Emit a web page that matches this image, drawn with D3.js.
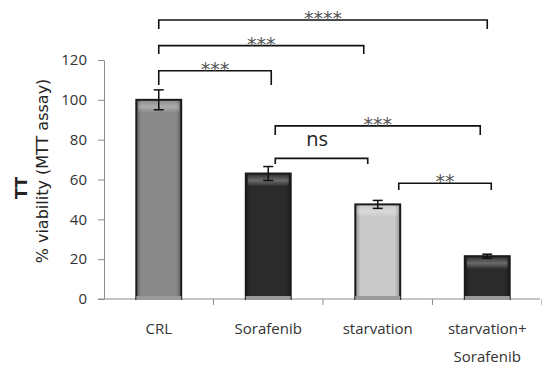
<!DOCTYPE html>
<html>
<head>
<meta charset="utf-8">
<script src="https://cdn.jsdelivr.net/npm/d3@7"></script>
<style>
  body { margin: 0; background: #fff; }
  text { font-family: "Open Sans", Lato, sans-serif; }
</style>
</head>
<body>
<svg id="chart" width="542" height="371"></svg>
<script>
const categories = ['CRL', 'Sorafenib', 'starvation', 'starvation+\nSorafenib']
const viability = [100, 63, 47.5, 21.5]
const errors = [5, 3.5, 2, 1]
const barColors = ['#8a8a8a', '#2b2b2b', '#c9c9c9', '#2b2b2b']
const yTicks = [0, 20, 40, 60, 80, 100, 120]

// significance brackets: from / to category index, level in y units, label
const brackets = [
  { from: 0, to: 1, level: 114.6, leg: 107.4, label: '***', dx0: 0, dx1: 3 },
  { from: 0, to: 2, level: 127.2, leg: 123, label: '***', dx0: 0, dx1: -14 },
  { from: 0, to: 3, level: 140.1, leg: 135.6, label: '****', dx0: 0, dx1: 0 },
  { from: 1, to: 3, level: 86.9, leg: 82.3, label: '***', dx0: 7, dx1: -7 },
  { from: 1, to: 2, level: 70.6, leg: 67.8, label: 'ns', dx0: 7, dx1: -10 },
  { from: 2, to: 3, level: 58.1, leg: 54.7, label: '**', dx0: 21, dx1: 4 }
]

const svg = d3.select('#chart')
const margin = { left: 104, right: 0, top: 60, bottom: 72 }

const x = d3.scaleBand()
  .domain(categories)
  .range([margin.left, 542])
  .paddingInner(0.59)
  .paddingOuter(0.295)

const y = d3.scaleLinear()
  .domain([0, 120])
  .range([299, 60])

const defs = svg.append('defs')
barColors.forEach(function (c, i) {
  const base = d3.color(c)
  const g = defs.append('linearGradient').attr('id', 'hg' + i)
  g.append('stop').attr('offset', '0%').attr('stop-color', base.darker(0.9))
  g.append('stop').attr('offset', '12%').attr('stop-color', base)
  g.append('stop').attr('offset', '88%').attr('stop-color', base)
  g.append('stop').attr('offset', '100%').attr('stop-color', base.darker(0.9))
})
const hl = defs.append('linearGradient').attr('id', 'top').attr('x1', 0).attr('x2', 0).attr('y1', 0).attr('y2', 1)
hl.append('stop').attr('offset', '0').attr('stop-color', '#fff').attr('stop-opacity', 0.05)
hl.append('stop').attr('offset', '0.5').attr('stop-color', '#fff').attr('stop-opacity', 0.3)
hl.append('stop').attr('offset', '1').attr('stop-color', '#fff').attr('stop-opacity', 0)

// y axis
const yAxis = svg.append('g')
  .attr('transform', 'translate(' + margin.left + ',0)')
  .call(d3.axisLeft(y).tickValues(yTicks).tickSize(6).tickPadding(11).tickSizeOuter(0))
yAxis.select('.domain').attr('stroke', '#8c8c8c')
yAxis.selectAll('.tick line').attr('stroke', '#8c8c8c')
yAxis.selectAll('.tick text').attr('font-size', 15).attr('fill', '#333')
  .style('font-family', '"Open Sans", sans-serif')

// x axis line and ticks at band boundaries
svg.append('line')
  .attr('x1', margin.left - 6).attr('x2', 540)
  .attr('y1', y(0)).attr('y2', y(0))
  .attr('stroke', '#8c8c8c')
svg.selectAll('.xtick')
  .data(categories)
  .enter()
  .append('line')
  .attr('class', 'xtick')
  .attr('x1', function (d) { return x(d) - x.bandwidth() * 0.72 + x.step() })
  .attr('x2', function (d) { return x(d) - x.bandwidth() * 0.72 + x.step() })
  .attr('y1', y(0)).attr('y2', y(0) + 6)
  .attr('stroke', '#8c8c8c')

// bars
const bars = svg.selectAll('.bar')
  .data(viability)
  .enter()
  .append('g')
  .attr('class', 'bar')
bars.append('rect')
  .attr('x', function (d, i) { return x(categories[i]) })
  .attr('y', function (d) { return y(d) })
  .attr('width', x.bandwidth())
  .attr('height', function (d) { return y(0) - y(d) })
  .attr('fill', function (d, i) { return 'url(#hg' + i + ')' })
  .attr('stroke', '#1a1a1a')
  .attr('stroke-width', 2)
bars.append('rect')
  .attr('x', function (d, i) { return x(categories[i]) + 2 })
  .attr('y', function (d) { return y(d) + 1 })
  .attr('width', x.bandwidth() - 4)
  .attr('height', 12)
  .attr('fill', 'url(#top)')
bars.append('rect')
  .attr('x', function (d, i) { return x(categories[i]) })
  .attr('y', y(0) - 3)
  .attr('width', x.bandwidth())
  .attr('height', 4)
  .attr('fill', '#9a9a9a')

// error bars
const eb = svg.selectAll('.err')
  .data(viability)
  .enter()
  .append('g')
  .attr('class', 'err')
  .attr('stroke', '#111')
  .attr('stroke-width', 1.5)
eb.append('line')
  .attr('x1', function (d, i) { return x(categories[i]) + x.bandwidth() / 2 })
  .attr('x2', function (d, i) { return x(categories[i]) + x.bandwidth() / 2 })
  .attr('y1', function (d, i) { return y(d + errors[i]) })
  .attr('y2', function (d, i) { return y(d - errors[i]) })
eb.selectAll('.cap')
  .data(function (d, i) { return [[d + errors[i], i], [d - errors[i], i]] })
  .enter()
  .append('line')
  .attr('x1', function (d) { return x(categories[d[1]]) + x.bandwidth() / 2 - 5 })
  .attr('x2', function (d) { return x(categories[d[1]]) + x.bandwidth() / 2 + 5 })
  .attr('y1', function (d) { return y(d[0]) })
  .attr('y2', function (d) { return y(d[0]) })

// category labels
const xl = svg.selectAll('.xlab')
  .data(categories)
  .enter()
  .append('text')
  .attr('class', 'xlab')
  .attr('text-anchor', 'middle')
  .attr('font-size', 15)
  .attr('fill', '#333')
xl.selectAll('tspan')
  .data(function (d) { return d.split('\n').map(function (t) { return [t, d] }) })
  .enter()
  .append('tspan')
  .attr('x', function (t) { return x(t[1]) + x.bandwidth() / 2 })
  .attr('y', function (t, j) { return 334 + j * 28 })
  .text(function (t) { return t[0] })

// y titles
svg.append('text')
  .attr('transform', 'translate(27,188) rotate(-90)')
  .attr('text-anchor', 'middle')
  .attr('font-size', 16)
  .attr('font-weight', 'bold')
  .attr('fill', '#222')
  .style('font-family', '"DejaVu Sans", sans-serif')
  .text('TT')
svg.append('text')
  .attr('transform', 'translate(48,171) rotate(-90)')
  .attr('text-anchor', 'middle')
  .attr('font-size', 16)
  .attr('fill', '#222')
  .style('font-family', '"DejaVu Sans", sans-serif')
  .text('% viability (MTT assay)')

// brackets
const br = svg.selectAll('.bracket')
  .data(brackets)
  .enter()
  .append('g')
  .attr('class', 'bracket')
br.append('path')
  .attr('fill', 'none')
  .attr('stroke', '#111')
  .attr('stroke-width', 1.6)
  .attr('d', function (b) {
    const x0 = x(categories[b.from]) + x.bandwidth() / 2 + b.dx0
    const x1 = x(categories[b.to]) + x.bandwidth() / 2 + b.dx1
    return 'M' + x0 + ',' + y(b.leg) + 'V' + y(b.level) + 'H' + x1 + 'V' + y(b.leg)
  })
br.append('text')
  .attr('text-anchor', 'middle')
  .attr('x', function (b) {
    const x0 = x(categories[b.from]) + x.bandwidth() / 2 + b.dx0
    const x1 = x(categories[b.to]) + x.bandwidth() / 2 + b.dx1
    return b.label === 'ns' ? x0 + 42 : (x0 + x1) / 2
  })
  .attr('y', function (b) { return b.label === 'ns' ? y(b.level) - 12 : y(b.level) + 5 })
  .attr('font-size', function (b) { return b.label === 'ns' ? 20 : 19 })
  .attr('fill', function (b) { return b.label === 'ns' ? '#222' : '#555' })
  .style('font-family', function (b) { return b.label === 'ns' ? '"Open Sans", sans-serif' : '"DejaVu Sans", sans-serif' })
  .text(function (b) { return b.label })
</script>
</body>
</html>
